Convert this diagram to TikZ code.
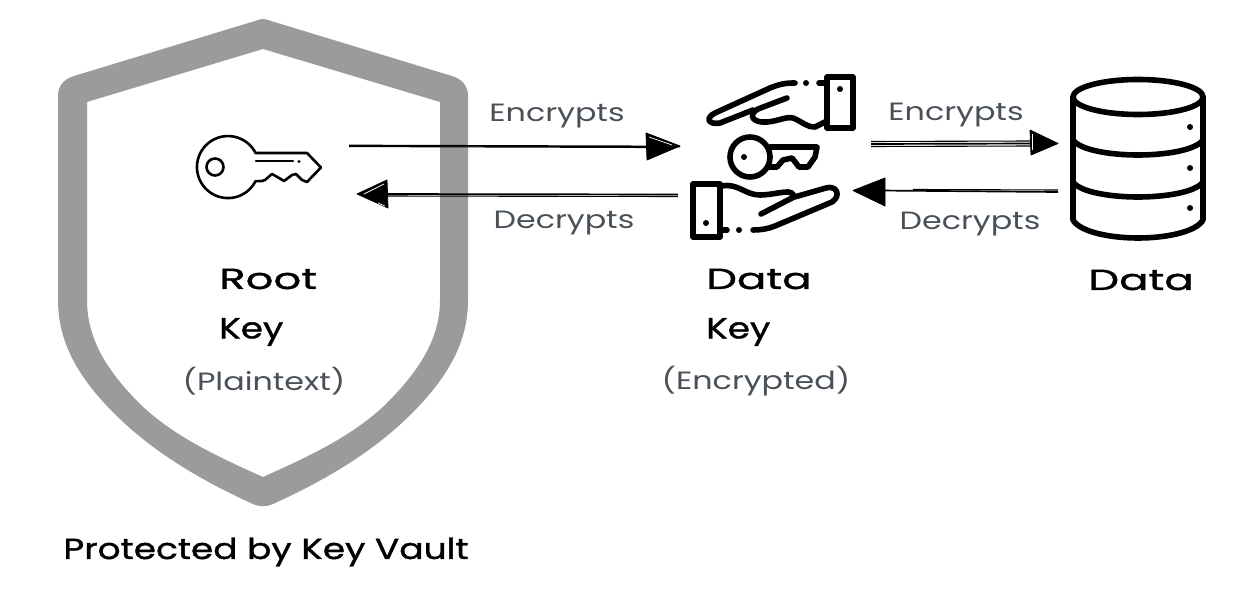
\documentclass[tikz,border=0pt]{standalone}
\usepackage{fontspec}
\setmainfont{Poppins}
\newfontfamily\titlefont[FakeStretch=1.24,FakeBold=1.2]{Poppins}
\newfontfamily\widefont[FakeStretch=1.5,FakeBold=1.2]{Poppins}
\newfontfamily\notefont[FakeStretch=1.27]{Poppins}
\definecolor{shieldgray}{HTML}{9B9B9B}
\definecolor{labelgray}{HTML}{495057}
\tikzset{
  px/.style={x=1pt,y=1pt,yscale=-1},
  icon/.style={draw=black,line width=5.6pt,line cap=round,line join=round},
  thinicon/.style={draw=black,line width=2.6pt,line cap=round,line join=round},
  wire/.style={draw=black,line width=1.1pt},
  wirebold/.style={draw=black,line width=1.7pt},
  headfill/.style={fill=black,draw=black,line width=.8pt,line join=round},
  sliver/.style={draw=white,line width=.7pt},
  title/.style={inner sep=0pt,text=black,font=\titlefont\fontsize{29}{34}\selectfont},
  widetitle/.style={inner sep=0pt,text=black,font=\widefont\fontsize{29}{34}\selectfont},
  note/.style={inner sep=0pt,text=labelgray,font=\notefont\fontsize{25}{30}\selectfont},
}
\begin{document}
\begin{tikzpicture}[px]
\useasboundingbox (0,0) rectangle (1238,593);
% shield
\fill[shieldgray,even odd rule]
  (263,19) .. controls (266,19) and (268,20) .. (271,21)
  -- (452,76) .. controls (462,79) and (468,86) .. (468,96)
  -- (468,300) .. controls (468,345) and (445,382) .. (405,420)
  .. controls (365,458) and (315,485) .. (273,504)
  .. controls (266,507) and (260,507) .. (253,504)
  .. controls (211,485) and (161,458) .. (121,420)
  .. controls (81,382) and (58,345) .. (58,300)
  -- (58,96) .. controls (58,86) and (64,79) .. (74,76)
  -- (255,21) .. controls (258,20) and (260,19) .. (263,19) -- cycle
  (263,49) -- (440,102) -- (440,300)
  .. controls (440,340) and (418,372) .. (385,405)
  .. controls (350,438) and (305,458) .. (263,477)
  .. controls (221,458) and (176,438) .. (141,405)
  .. controls (108,372) and (87,340) .. (87,300)
  -- (87,102) -- cycle;
% root key icon
\draw[thinicon] (255.6,153) arc[start angle=-27,end angle=-333,radius=31]
  -- (262,181) -- (265,180) -- (272,174) -- (279,178) -- (284,181) -- (292,175)
  -- (296,174) -- (302,180) -- (307,182) -- (321,167.5) -- (307,153) -- cycle;
\draw[thinicon] (215,167) circle[radius=8.5];
\draw[thinicon] (256,161) -- (293,161);
\fill (299,161.5) circle[radius=1.6];
% data key: upper hand
\draw[icon] (827,77) rectangle (853,128);
\fill (840,89) circle[radius=3];
\draw[icon] (795,83) .. controls (785,83) and (780,84) .. (770,88) -- (715,113)
  .. controls (705,118) and (708,125) .. (720,123) -- (753,110);
\draw[icon] (787,98) -- (758,109) .. controls (750,113) and (750,121) .. (762,122)
  .. controls (775,123) and (785,116) .. (793,118) .. controls (803,122) and (806,127) .. (815,127) -- (827,121);
\fill (806,83) circle[radius=3];
\draw[icon] (819,83) -- (827,83);
% data key: centre key
\draw[icon] (750,157) circle[radius=20];
\fill (744,157) circle[radius=3];
\draw[icon] (770,147) -- (817,147) -- (815,157) -- (808,167) -- (799,167) -- (792,158) -- (783,160) -- (777,167) -- (769,167);
% data key: lower hand
\draw[icon] (693,184) rectangle (720,237);
\fill (706,223) circle[radius=3];
\draw[icon] (722,186) .. controls (738,183) and (745,195) .. (760,195)
  .. controls (770,195) and (780,192) .. (788,192) .. controls (793,192) and (795,196) .. (792,198) -- (761,214);
\draw[icon] (791,198) -- (826,188) .. controls (836,185) and (842,195) .. (832,202)
  -- (775,226) .. controls (768,229) and (760,230) .. (753,230);
\fill (739,230) circle[radius=3];
\draw[icon] (723,230) -- (727,230);
% database
\draw[icon] (1138,97) ellipse[x radius=65,y radius=17.5];
\draw[icon] (1073,97) -- (1073,220) .. controls (1080,232) and (1110,238) .. (1138,238)
  .. controls (1166,238) and (1196,232) .. (1203,220) -- (1203,97);
\draw[icon] (1073,140) .. controls (1080,150) and (1110,155) .. (1138,155) .. controls (1166,155) and (1196,150) .. (1203,140);
\draw[icon] (1073,182) .. controls (1080,192) and (1110,197) .. (1138,197) .. controls (1166,197) and (1196,192) .. (1203,182);
\fill (1190,127) circle[radius=3];
\fill (1190,168) circle[radius=3];
\fill (1190,208) circle[radius=3];
% connector ends
\coordinate (aS) at (349,145.5); \coordinate (aE) at (680,146);
\coordinate (bS) at (678,194.5); \coordinate (bE) at (357,194);
\coordinate (cS) at (871,144); \coordinate (cE) at (1058,143.5);
\coordinate (dS) at (1058,192); \coordinate (dE) at (853,190.5);
% root -> data key
\draw[wirebold] (aS) -- ([yshift=.5pt]aE);
\draw[wire] ([yshift=1pt]aS) -- ([yshift=1.5pt,xshift=-30pt]aE);
\draw[headfill] (aE) -- (646,133) -- (647,160) -- cycle;
\draw[sliver] (649,137) -- (672,145);
% data key -> root
\draw[wirebold] (bS) -- ([xshift=20pt]bE);
\draw[wire] ([yshift=2pt]bS) -- ([yshift=2pt,xshift=20pt]bE);
\draw[headfill] (bE) -- (387,180) -- (388,208) -- cycle;
\draw[sliver] (364,194) -- (384,184);
\draw[sliver] (378,203) -- (385,206);
% data key -> data
\draw[wirebold] (cS) -- ([xshift=-20pt]cE);
\draw[wire] ([yshift=-2.5pt]cS) -- ([yshift=-2.5pt,xshift=-25pt]cE);
\draw[wire] ([yshift=2.5pt]cS) -- ([yshift=2.5pt,xshift=-25pt]cE);
\draw[headfill] (cE) -- (1030,130) -- (1031,155) -- cycle;
\draw[sliver] (1032,134) -- (1032,150);
% data -> data key
\draw[wirebold] (dS) -- ([xshift=25pt]dE);
\draw[wire] ([yshift=-2pt]dS) -- ([yshift=-1pt,xshift=60pt]dE);
\draw[headfill] (dE) -- (885,178) -- (885,206) -- cycle;
% labels
\node[note] (l1) at (557,116) {Encrypts};
\node[note] (l2) at (564,223) {Decrypts};
\node[note] (l3) at (956,115) {Encrypts};
\node[note] (l4) at (970,224) {Decrypts};
\node[widetitle,anchor=west] (root) at (219,279) {Root};
\node[title,anchor=west] (key1) at (219,332) {Key};
\node[note] (plain) at (264,381) {(Plaintext)};
\node[widetitle,anchor=west] (data1) at (706,279) {Data};
\node[title,anchor=west] (key2) at (706,332) {Key};
\node[note] (enc) at (756,381) {(Encrypted)};
\node[widetitle] (data2) at (1141,280) {Data};
\node[title] (prot) at (266,552) {Protected by Key Vault};
\end{tikzpicture}
\end{document}
